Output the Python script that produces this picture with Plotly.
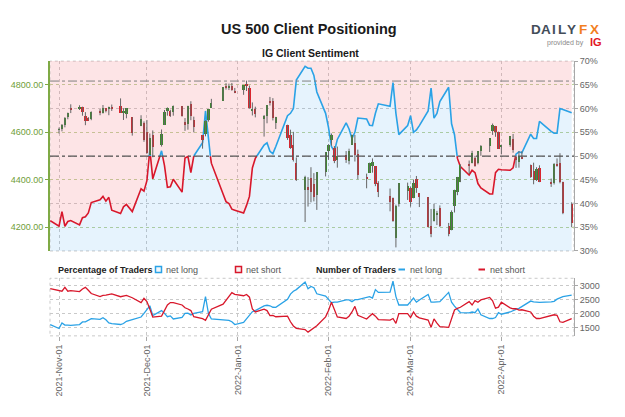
import pandas as pd
import plotly.graph_objects as go

W, H = 625, 417

# ---------------- data ----------------
holidays = ["2021-11-25", "2021-12-24", "2022-01-17", "2022-02-21", "2022-04-15"]
dates = [d for d in pd.bdate_range("2021-10-29", "2022-04-25")
         if d.strftime("%Y-%m-%d") not in holidays]

net_long_pct = [
    36.4,
    35.2, 38.3, 35.2, 36.2, 36.4,
    35.5, 37.0, 37.2, 38.0, 40.2,
    40.8, 41.5, 40.5, 41.3, 38.6,
    37.9, 39.3, 39.8, 38.3,
    43.1, 42.6,
    44.8, 51.3, 45.2,
    51.1, 48.0, 43.4, 43.5, 45.1,
    42.4, 49.6, 49.9, 46.5, 50.0,
    52.8, 59.5, 53.0, 48.5,
    42.0, 40.4, 40.0, 38.8, 38.6,
    38.0, 39.6, 41.5, 47.5, 49.5,
    52.3, 52.8, 51.0, 50.5, 52.0,
    58.5, 59.0, 60.0, 66.0,
    68.9, 68.5, 68.5, 67.0, 63.5,
    59.0,
    56.0, 52.0, 51.0, 53.5,
    57.0, 55.7, 53.7, 55.0, 58.0,
    57.8, 56.5, 56.4, 59.0, 61.0,
    60.5, 65.5, 59.0, 54.5,
    56.4,
    58.5, 55.0, 55.5, 56.4,
    59.5, 64.3, 58.0, 59.0, 61.5,
    64.5, 56.8, 54.5, 49.5, 47.8,
    46.0, 47.0, 46.5, 44.2, 43.3,
    42.0, 42.0, 46.5, 47.2,
    47.1,
    47.0, 47.5, 50.4, 50.9, 50.7,
    54.6, 53.7, 53.7, 57.3,
    55.2, 54.8, 54.8, 60.0, 59.8,
    59.1,
]

net_long_traders = [
    1600,
    1460, 1660, 1580, 1580, 1570,
    1600, 1695, 1695, 1740, 1810,
    1787, 1845, 1770, 1660, 1637,
    1602, 1637, 1718, 1780,
    1870, 2000,
    2157, 2272, 1926,
    2100, 2000, 1880, 1910, 1800,
    1860, 2000, 2010, 1940, 2000,
    2064, 2596, 2000, 1800,
    1770, 1753, 1753, 1700, 1600,
    1680, 1810, 1900, 2060, 2100,
    2270, 2290, 2272, 2220, 2215,
    2500, 2690, 2790, 2850,
    3120, 2880, 2965, 2920, 2700,
    2620,
    2500, 2380, 2400, 2400,
    2480, 2480, 2420, 2490, 2490,
    2560, 2600, 2550, 2850, 2750,
    2760, 3150, 2600, 2300,
    2300,
    2420, 2550, 2400, 2480,
    2680, 2400, 2400, 2420, 2420,
    2750, 2400, 2260, 2150, 2030,
    2020, 2049, 2026, 2160, 1950,
    1817, 1817, 1850, 2026,
    1970,
    2050, 2107, 2140, 2180, 2240,
    2440, 2410, 2400, 2397,
    2410, 2430, 2510, 2560, 2600,
    2650,
]

net_short_traders = [
    2885,
    2815, 2792, 2930, 2792, 2815,
    2780, 2873, 2930, 2827, 2711,
    2600, 2642, 2650, 2677, 2700,
    2596, 2610, 2640, 2560,
    2388, 2540,
    2423, 2157, 1868,
    1903, 2100, 2300, 2388, 2388,
    2300, 2200, 2157, 2100, 1880,
    1810, 1753, 1950, 2150,
    2330, 2470, 2620, 2740, 2680,
    2630, 2677, 2580, 2157, 2050,
    2150, 2100, 1920, 1926, 1880,
    1900, 1700, 1550, 1464,
    1420, 1330, 1400, 1469, 1560,
    1875,
    2100, 2397, 2165, 1875,
    1817, 1900, 2050, 2250, 1933,
    1800, 1900, 1991, 1900, 1780,
    1760, 1817, 1643, 1991,
    1991,
    1850, 2050, 1900, 1840,
    1759, 1500, 1800, 1650, 1527,
    1500, 1800, 2120, 2180, 2220,
    2420, 2300, 2455, 2397, 2480,
    2571, 2450, 2188, 2223,
    2400,
    2200, 2165, 2165, 2120, 2130,
    2050, 1900, 1817, 1817,
    1930, 1950, 1930, 1700, 1677,
    1810,
]

# US 500 daily candles (from 2021-11-01)
candle_dates = dates[1:]
price_open = [
    4610, 4613, 4630, 4662, 4699, 4701, 4707, 4670, 4660, 4655,
    4689, 4680, 4701, 4700, 4708, 4712, 4679, 4675, 4664, 4628,
    4640, 4602, 4504, 4590, 4548, 4631, 4690, 4691, 4687, 4711,
    4642, 4636, 4720, 4652, 4588, 4594, 4650, 4703, 4733, 4795,
    4788, 4795, 4775, 4778, 4804, 4787, 4693, 4698, 4655, 4670,
    4728, 4733, 4637, 4632, 4588, 4547, 4471, 4357, 4367, 4408,
    4381, 4337, 4431, 4519, 4566, 4535, 4482, 4505, 4480, 4548,
    4553, 4506, 4413, 4429, 4456, 4456, 4385, 4332, 4324, 4155,
    4298, 4354, 4363, 4322, 4401, 4343, 4327, 4203, 4224, 4253,
    4279, 4203, 4188, 4289, 4346, 4391, 4462, 4469, 4493, 4470,
    4522, 4541, 4603, 4624, 4599, 4540, 4547, 4572, 4495, 4474,
    4494, 4463, 4437, 4398, 4449, 4390, 4385, 4468, 4470, 4388,
    4298,
]
price_high = [
    4620, 4635, 4664, 4683, 4718, 4714, 4708, 4685, 4664, 4688,
    4698, 4715, 4701, 4708, 4717, 4743, 4701, 4702, 4664, 4672,
    4646, 4652, 4595, 4608, 4612, 4694, 4705, 4695, 4713, 4711,
    4660, 4712, 4731, 4666, 4588, 4651, 4697, 4741, 4791, 4807,
    4805, 4808, 4787, 4797, 4818, 4797, 4726, 4708, 4673, 4714,
    4749, 4744, 4665, 4632, 4611, 4602, 4494, 4417, 4411, 4453,
    4428, 4432, 4517, 4550, 4595, 4542, 4540, 4521, 4531, 4590,
    4589, 4527, 4426, 4472, 4490, 4456, 4394, 4363, 4325, 4295,
    4385, 4388, 4372, 4401, 4416, 4343, 4327, 4277, 4299, 4269,
    4292, 4218, 4271, 4358, 4412, 4465, 4481, 4522, 4501, 4520,
    4546, 4575, 4637, 4627, 4603, 4548, 4583, 4593, 4503, 4521,
    4520, 4464, 4472, 4453, 4461, 4405, 4470, 4490, 4512, 4392,
    4305,
]
price_low = [
    4595, 4604, 4621, 4655, 4681, 4694, 4670, 4630, 4649, 4651,
    4672, 4679, 4684, 4672, 4690, 4682, 4652, 4659, 4586, 4626,
    4560, 4510, 4504, 4495, 4540, 4631, 4670, 4665, 4670, 4666,
    4606, 4611, 4651, 4600, 4531, 4583, 4645, 4703, 4733, 4780,
    4778, 4775, 4765, 4758, 4774, 4700, 4671, 4663, 4582, 4638,
    4713, 4650, 4614, 4568, 4530, 4477, 4395, 4222, 4287, 4305,
    4309, 4273, 4414, 4484, 4544, 4470, 4451, 4471, 4465, 4548,
    4477, 4402, 4364, 4429, 4430, 4373, 4327, 4267, 4223, 4115,
    4287, 4315, 4287, 4322, 4345, 4285, 4199, 4158, 4224, 4209,
    4201, 4162, 4187, 4262, 4335, 4390, 4424, 4469, 4455, 4465,
    4501, 4517, 4589, 4581, 4530, 4507, 4539, 4514, 4450, 4451,
    4487, 4408, 4381, 4395, 4390, 4370, 4380, 4455, 4385, 4255,
    4200,
]
price_close = [
    4613, 4631, 4660, 4680, 4697, 4701, 4685, 4646, 4649, 4683,
    4682, 4700, 4688, 4704, 4698, 4682, 4690, 4701, 4595, 4655,
    4567, 4513, 4577, 4538, 4591, 4686, 4701, 4667, 4712, 4668,
    4634, 4709, 4668, 4620, 4568, 4649, 4697, 4725, 4791, 4786,
    4793, 4778, 4766, 4797, 4794, 4701, 4696, 4677, 4670, 4713,
    4726, 4659, 4663, 4577, 4533, 4483, 4398, 4410, 4357, 4350,
    4327, 4432, 4516, 4546, 4589, 4477, 4501, 4484, 4522, 4587,
    4504, 4419, 4402, 4472, 4475, 4380, 4349, 4305, 4226, 4288,
    4385, 4374, 4306, 4387, 4364, 4329, 4201, 4171, 4278, 4260,
    4204, 4173, 4262, 4358, 4412, 4463, 4461, 4512, 4456, 4520,
    4543, 4576, 4632, 4602, 4530, 4546, 4583, 4525, 4481, 4500,
    4488, 4413, 4397, 4446, 4392, 4385, 4465, 4460, 4390, 4258,
    4218,
]

pct_ticks = [30, 35, 40, 45, 50, 55, 60, 65, 70]
price_ticks = [4200, 4400, 4600, 4800]
count_ticks = [1500, 2000, 2500, 3000]
neutral_level = 50
upper_ref_level = 65.8

# ---------------- styling ----------------
FONT = "Liberation Sans"
BLUE = "#2aa2e6"
RED = "#d8172b"
GREEN_C = "#3c8a2e"
RED_C = "#d9262e"
WICK = "#666666"
GRID = "#c9c9c9"
GREEN_AX = "#7faa45"

x_range = ["2021-10-28 22:00", "2022-04-25 19:00"]
XD = [50 / W, 574 / W]
Y_MAIN = [1 - 252 / H, 1 - 57.5 / H]
Y_BOT = [1 - 339 / H, 1 - 280 / H]


def split_by_threshold(xs, ys, thr):
    """Split a line into runs above/below thr, inserting crossing points."""
    runs = []
    cur_col = ys[0] >= thr
    cur = [(xs[0], ys[0])]
    for i in range(1, len(xs)):
        x0, y0, x1, y1 = xs[i - 1], ys[i - 1], xs[i], ys[i]
        col = y1 >= thr
        if col != cur_col:
            t = (thr - y0) / (y1 - y0)
            xc = x0 + (x1 - x0) * t
            cur.append((xc, thr))
            runs.append((cur_col, cur))
            cur = [(xc, thr)]
            cur_col = col
        cur.append((x1, y1))
    runs.append((cur_col, cur))
    out = {True: ([], []), False: ([], [])}
    for col, pts in runs:
        for px_, py_ in pts:
            out[col][0].append(px_)
            out[col][1].append(py_)
        out[col][0].append(None)
        out[col][1].append(None)
    return out


fig = go.Figure()

# sentiment background fills
fig.add_trace(go.Scatter(x=dates, y=[pct_ticks[-1]] * len(dates), mode="lines",
                         line=dict(width=0), hoverinfo="skip", showlegend=False,
                         xaxis="x", yaxis="y"))
fig.add_trace(go.Scatter(x=dates, y=net_long_pct, mode="lines", line=dict(width=0),
                         fill="tonexty", fillcolor="rgba(245,120,130,0.20)",
                         hoverinfo="skip", showlegend=False, xaxis="x", yaxis="y"))
fig.add_trace(go.Scatter(x=dates, y=net_long_pct, mode="lines", line=dict(width=0),
                         fill="tozeroy", fillcolor="rgba(30,150,240,0.11)",
                         hoverinfo="skip", showlegend=False, xaxis="x", yaxis="y"))

segs = split_by_threshold(list(dates), net_long_pct, neutral_level)
fig.add_trace(go.Scatter(x=segs[False][0], y=segs[False][1], mode="lines",
                         line=dict(color=RED, width=1.6), showlegend=False,
                         connectgaps=False, xaxis="x", yaxis="y"))
fig.add_trace(go.Scatter(x=segs[True][0], y=segs[True][1], mode="lines",
                         line=dict(color=BLUE, width=1.6), showlegend=False,
                         connectgaps=False, xaxis="x", yaxis="y"))

# candles: wicks + bodies on the price axis
wx, wy = [], []
for d, lo, hi in zip(candle_dates, price_low, price_high):
    wx += [d, d, None]
    wy += [lo, hi, None]
fig.add_trace(go.Scatter(x=wx, y=wy, mode="lines", line=dict(color=WICK, width=1),
                         showlegend=False, hoverinfo="skip", xaxis="x", yaxis="y2"))
body_base = [min(o, c) for o, c in zip(price_open, price_close)]
body_h = [max(abs(c - o), 3) for o, c in zip(price_open, price_close)]
body_col = [GREEN_C if c >= o else RED_C for o, c in zip(price_open, price_close)]
fig.add_trace(go.Bar(x=candle_dates, y=body_h, base=body_base,
                     width=0.75 * 86400000, marker=dict(color=body_col, line=dict(width=0)),
                     showlegend=False, xaxis="x", yaxis="y2"))

# number of traders
fig.add_trace(go.Scatter(x=dates, y=net_long_traders, mode="lines",
                         line=dict(color=BLUE, width=1.3), showlegend=False,
                         xaxis="x2", yaxis="y3"))
fig.add_trace(go.Scatter(x=dates, y=net_short_traders, mode="lines",
                         line=dict(color=RED, width=1.3), showlegend=False,
                         xaxis="x2", yaxis="y3"))

tickfont = dict(family=FONT, size=9, color="#666")

fig.update_layout(
    width=W, height=H, autosize=False,
    margin=dict(l=0, r=0, t=0, b=0),
    paper_bgcolor="white", plot_bgcolor="white",
    font=dict(family=FONT),
    bargap=0,
    xaxis=dict(domain=XD, anchor="y", type="date", range=x_range,
               showticklabels=False, ticks="", dtick="M1", tick0="2021-11-01",
               showgrid=True, gridcolor=GRID, griddash="dot", gridwidth=1,
               zeroline=False, showline=False),
    yaxis=dict(domain=Y_MAIN, anchor="x", side="right", range=[30, 70],
               tickvals=pct_ticks, ticktext=[f"{v}%" for v in pct_ticks],
               tickfont=tickfont, showgrid=True, gridcolor=GRID, griddash="dot",
               showline=True, linecolor="#a8a8a8", linewidth=1,
               ticks="outside", ticklen=3, tickcolor="#a8a8a8", zeroline=False),
    yaxis2=dict(overlaying="y", side="left", anchor="x", range=[4100, 4900],
                tickvals=price_ticks, tickformat=".2f",
                tickfont=dict(family=FONT, size=9, color="#6f9e38"),
                showgrid=True, gridcolor="#bcd39a", griddash="dot",
                showline=True, linecolor=GREEN_AX, linewidth=2,
                ticks="outside", ticklen=3, tickcolor=GREEN_AX, zeroline=False),
    xaxis2=dict(domain=XD, anchor="y3", type="date", range=x_range,
                dtick="M1", tick0="2021-11-01", tickformat="%Y-%b-%d",
                tickangle=-90, tickfont=tickfont, ticks="outside", ticklen=4,
                tickcolor="#a8a8a8", showgrid=True, gridcolor=GRID, griddash="dot",
                zeroline=False, showline=False),
    yaxis3=dict(domain=Y_BOT, anchor="x2", side="right", range=[1196, 3255],
                tickvals=count_ticks, tickfont=tickfont,
                showgrid=True, gridcolor=GRID, griddash="dot",
                showline=True, linecolor="#a8a8a8", linewidth=1,
                ticks="outside", ticklen=3, tickcolor="#a8a8a8", zeroline=False),
)

shapes = []
# panel borders (dotted)
for yd in (Y_MAIN, Y_BOT):
    shapes.append(dict(type="rect", xref="paper", yref="paper", x0=XD[0], x1=XD[1],
                       y0=yd[0], y1=yd[1], line=dict(color=GRID, width=1, dash="dot"),
                       layer="below"))
# reference levels on sentiment
shapes.append(dict(type="line", xref="paper", yref="y", x0=XD[0], x1=XD[1],
                   y0=neutral_level, y1=neutral_level,
                   line=dict(color="#555555", width=1.2, dash="dashdot")))
shapes.append(dict(type="line", xref="paper", yref="y", x0=XD[0], x1=XD[1],
                   y0=upper_ref_level, y1=upper_ref_level,
                   line=dict(color="#808080", width=1, dash="dashdot")))


def px(x):
    return x / W


def py(y):
    return 1 - y / H


# legend symbols
LY = 271
shapes.append(dict(type="rect", xref="paper", yref="paper", x0=px(155.5), x1=px(161.5),
                   y0=py(274), y1=py(268), line=dict(color=BLUE, width=1.5),
                   fillcolor="#f2f7fb"))
shapes.append(dict(type="rect", xref="paper", yref="paper", x0=px(235.5), x1=px(241.5),
                   y0=py(274), y1=py(268), line=dict(color=RED, width=1.5),
                   fillcolor="#f7f2f2"))
shapes.append(dict(type="line", xref="paper", yref="paper", x0=px(398.5), x1=px(405),
                   y0=py(LY), y1=py(LY), line=dict(color=BLUE, width=2)))
shapes.append(dict(type="line", xref="paper", yref="paper", x0=px(478.5), x1=px(485),
                   y0=py(LY), y1=py(LY), line=dict(color=RED, width=2)))
fig.update_layout(shapes=shapes)

ann = []


def text(x, y, s, size, color="#222", bold=False, xanchor="left", family=FONT):
    ann.append(dict(x=px(x), y=py(y), xref="paper", yref="paper",
                    text=f"<b>{s}</b>" if bold else s, showarrow=False,
                    xanchor=xanchor, yanchor="middle",
                    font=dict(family=family, size=size, color=color)))


text(309, 25, "US 500 Client Positioning", 14.5, "#1a1a1a", True, "center")
text(310, 49, "IG Client Sentiment", 10.5, "#1a1a1a", True, "center")

# logo
logo = [("D", 535.5, "#434d59"), ("A", 545.5, "#434d59"), ("I", 554, "#434d59"),
        ("L", 561.5, "#434d59"), ("Y", 571, "#434d59"), ("F", 583, "#f2801f"),
        ("X", 594.5, "#f2801f")]
for ch, x, c in logo:
    text(x, 25, ch, 13.5, c, True, "center")
text(586, 38.5, "provided by", 7, "#8a8a8a", False, "right")
text(595.5, 38, "IG", 11, "#e2181f", True, "center")

LEG_FONT = "Liberation Sans Narrow, Liberation Sans"
text(56, LY, "Percentage of Traders", 9, "#222", True, "left", LEG_FONT)
text(164, LY, "net long", 9, "#555", False, "left", LEG_FONT)
text(244, LY, "net short", 9, "#555", False, "left", LEG_FONT)
text(314, LY, "Number of Traders", 9, "#222", True, "left", LEG_FONT)
text(408, LY, "net long", 9, "#555", False, "left", LEG_FONT)
text(488, LY, "net short", 9, "#555", False, "left", LEG_FONT)

fig.update_layout(annotations=ann)

fig.write_html("out.html",
               config={"displayModeBar": False},
               post_script="document.body.style.margin='0px';"
                           "document.body.style.overflow='hidden';")
